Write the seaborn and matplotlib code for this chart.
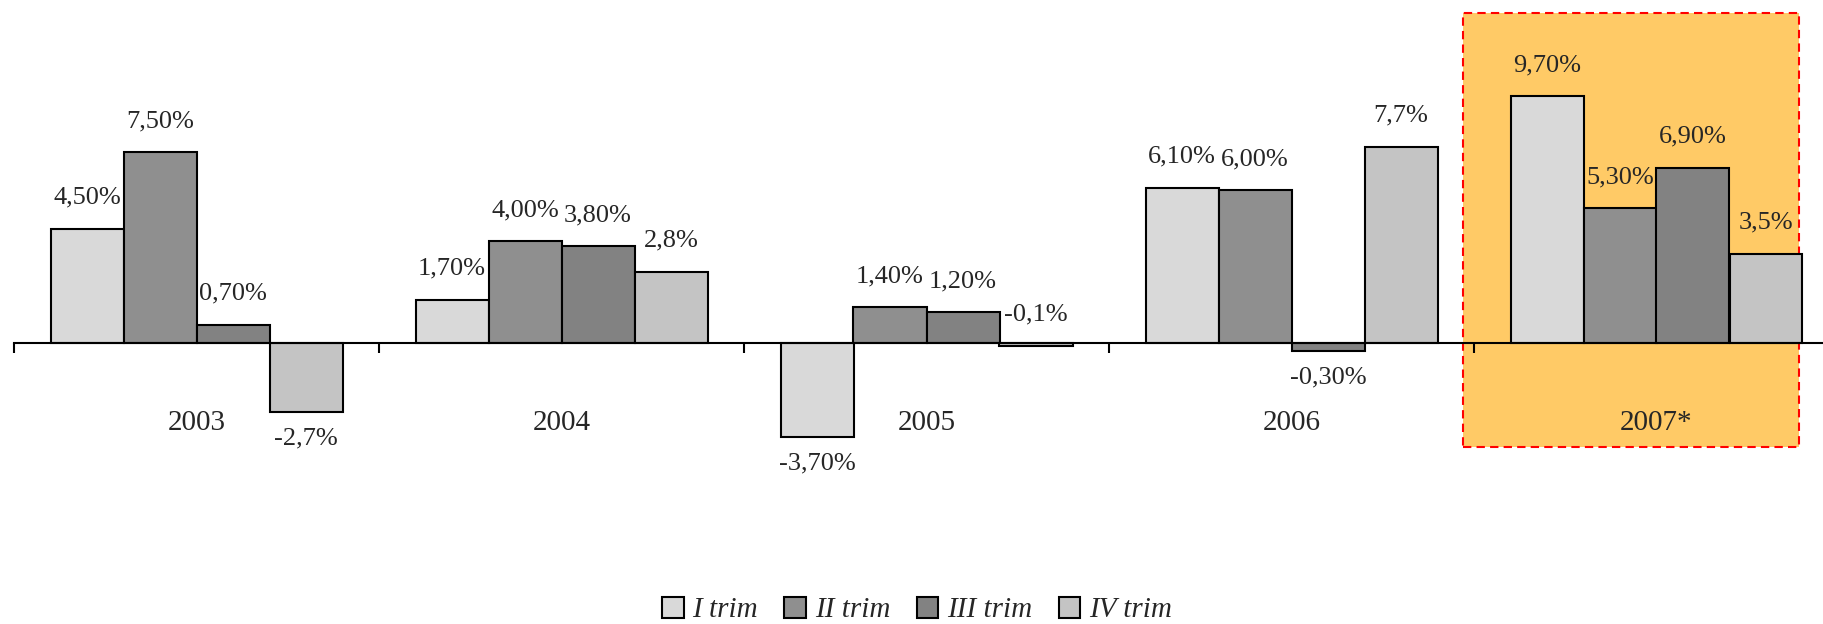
import seaborn as sns
import numpy as np
import pandas as pd
import matplotlib.pyplot as plt
from matplotlib.patches import Rectangle

years = ['2003', '2004', '2005', '2006', '2007*']
quarters = ['I trim', 'II trim', 'III trim', 'IV trim']
i_trim = [4.5, 1.7, -3.7, 6.1, 9.7]
ii_trim = [7.5, 4.0, 1.4, 6.0, 5.3]
iii_trim = [0.7, 3.8, 1.2, -0.3, 6.9]
iv_trim = [-2.7, 2.8, -0.1, 7.7, 3.5]
label_decimals = [2, 2, 2, 1]

colors = ['#D9D9D9', '#8F8F8F', '#828282', '#C4C4C4']

rows = []
for q, vals in zip(quarters, [i_trim, ii_trim, iii_trim, iv_trim]):
    for y, v in zip(years, vals):
        rows.append({'Anno': y, 'Trimestre': q, 'Valore': v})
df = pd.DataFrame(rows)

sns.set_style('white')
plt.rcParams['font.family'] = ['Liberation Serif', 'DejaVu Serif']

fig = plt.figure(figsize=(18.23, 6.24), dpi=100)
px_unit = 25.43
zero_px = 281
ylo, yhi = -11, 13.5
ax = fig.add_axes([14 / 1823, (zero_px + ylo * px_unit) / 624,
                   1825 / 1823, (yhi - ylo) * px_unit / 624])

sns.barplot(data=df, x='Anno', y='Valore', hue='Trimestre', order=years,
            hue_order=quarters, palette=colors, width=0.8, gap=0,
            edgecolor='black', linewidth=1.5, saturation=1, ax=ax,
            legend=True)

# riquadro 2007
ax.add_patch(Rectangle((3.47, -4.09), 0.92, 17.07, facecolor='#FFCA66',
                       edgecolor='#FF0000', linestyle=(0, (4, 2.5)),
                       linewidth=1.5, zorder=0, clip_on=False))

for k, cont in enumerate(ax.containers):
    for bar, v in zip(cont, df[df['Trimestre'] == quarters[k]]['Valore']):
        x = bar.get_x() + bar.get_width() / 2
        up = v > -0.2
        txt = f'{v:.{label_decimals[k]}f}%'.replace('.', ',')
        ax.annotate(txt, (x, v), xytext=(0, 22.5 if up else -19),
                    textcoords='offset points', ha='center', va='center',
                    fontsize=19)

ax.set_xlim(-0.5, 4.5)
ax.set_ylim(ylo, yhi)
for s in ['top', 'right', 'left']:
    ax.spines[s].set_visible(False)
ax.spines['bottom'].set_position(('data', 0))
ax.spines['bottom'].set_color('black')
ax.spines['bottom'].set_linewidth(1.5)
ax.set_yticks([])
ax.set_xticks(np.arange(-0.5, 5, 1))
ax.set_xticklabels([])
ax.set_xticks(np.arange(5), minor=True)
ax.set_xticklabels(years, minor=True, fontsize=21)
ax.tick_params(axis='x', which='major', direction='out', length=7.5,
               width=1.5, color='black', bottom=True)
ax.tick_params(axis='x', which='minor', length=0, pad=48)
ax.set_xlabel('')
ax.set_ylabel('')

handles, labels = ax.get_legend_handles_labels()
ax.get_legend().remove()
fig.legend(handles, labels, loc='center', bbox_to_anchor=(0.503, 14 / 624),
           ncol=4, frameon=False, handlelength=0.75, handleheight=0.75,
           handletextpad=0.3, columnspacing=0.9,
           prop={'style': 'italic', 'size': 21, 'family': 'Liberation Serif'})

fig.savefig('out.png', dpi=100)
